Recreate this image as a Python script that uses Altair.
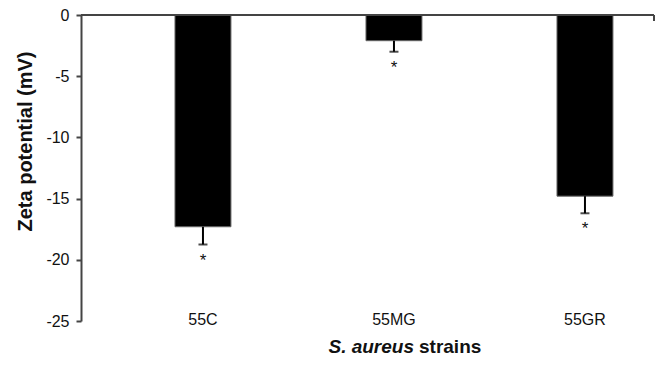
import altair as alt
import pandas as pd

strains = ["55C", "55MG", "55GR"]
zeta = [-17.3, -2.1, -14.8]
sem = [1.45, 0.9, 1.4]
y_ticks = [0, -5, -10, -15, -20, -25]

df = pd.DataFrame({"strain": strains, "zeta": zeta, "sem": sem})
df["low"] = df["zeta"] - df["sem"]

W, H = 573, 306
FONT = "Liberation Sans"
INK = "#111111"
AX = "#444444"

xscale = alt.Scale(paddingInner=0.707, paddingOuter=0.3535, align=0.696)
xaxis = alt.Axis(orient="bottom", title=None, domain=False, ticks=False, tickSize=0,
                 labelPadding=-2, labelBaseline="middle", labelAngle=0,
                 labelFontSize=16, labelColor=INK, labelFont=FONT)
yscale = alt.Scale(domain=[-25, 0], nice=False, zero=False)
yaxis = alt.Axis(values=y_ticks, title="Zeta potential (mV)", grid=False,
                 labelExpr="replace(datum.label, '\u2212', '-')",
                 domainColor=AX, domainWidth=2, tickColor=AX, tickWidth=2, tickSize=5,
                 labelPadding=7, labelFontSize=16, labelFont=FONT, labelColor=INK,
                 titleFont=FONT, titleFontSize=20, titleFontWeight="bold",
                 titleX=-56, titleY=126, titleColor=INK, titleBaseline="middle")


def X():
    return alt.X("strain:N", sort=strains, scale=xscale, axis=xaxis)


def Y(field):
    return alt.Y(field, scale=yscale, axis=yaxis)


base = alt.Chart(df)

bars = base.mark_bar(color="black", stroke="#666666", strokeWidth=1).encode(
    x=X(), y=Y("zeta:Q"), y2=alt.datum(0)
)
stems = base.mark_rule(color="black", strokeWidth=2).encode(
    x=X(), y=Y("zeta:Q"), y2="low:Q"
)
caps = base.mark_tick(color="black", size=9, thickness=2).encode(
    x=X(), y=Y("low:Q")
)
stars = base.mark_text(text="*", baseline="top", dy=8, fontSize=17, font=FONT, color=INK).encode(
    x=X(), y=Y("low:Q")
)

one = pd.DataFrame({"k": [0]})
topline = alt.Chart(one).mark_rule(color=AX, strokeWidth=2).encode(
    y=alt.datum(0), x=alt.value(0), x2=alt.value(W)
)
endtick = alt.Chart(one).mark_rule(color=AX, strokeWidth=2).encode(
    x=alt.value(W), y=alt.value(0), y2=alt.value(6)
)
t1 = alt.Chart(one).mark_text(text="S. aureus", font=FONT, fontSize=19, fontWeight="bold",
                              fontStyle="italic", align="right", baseline="alphabetic",
                              color=INK).encode(x=alt.value(333), y=alt.value(338))
t2 = alt.Chart(one).mark_text(text="strains", font=FONT, fontSize=19, fontWeight="bold",
                              align="left", baseline="alphabetic",
                              color=INK).encode(x=alt.value(338), y=alt.value(338))

chart = alt.layer(bars, stems, caps, stars, topline, endtick, t1, t2).properties(
    width=W, height=H,
    padding={"left": 73, "top": 7, "right": 1, "bottom": 39},
    autosize=alt.AutoSizeParams(type="none"),
).configure_view(stroke=None)

chart.save("out.html", embed_options={"renderer": "svg", "actions": False})
